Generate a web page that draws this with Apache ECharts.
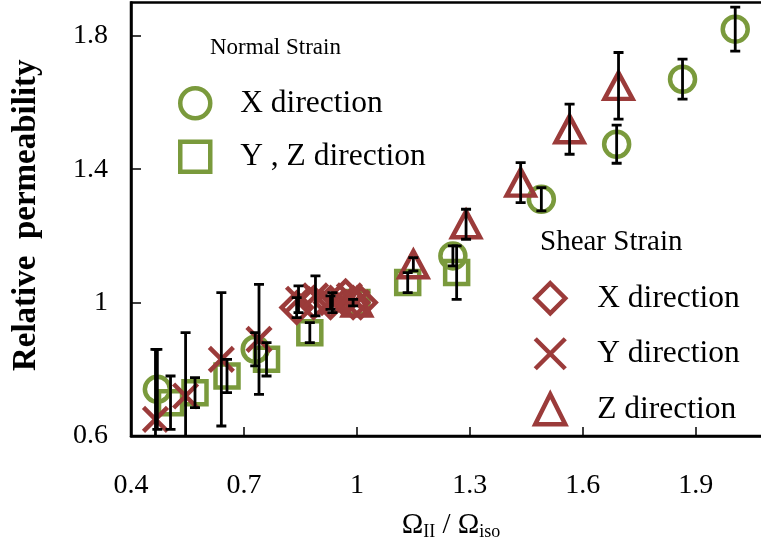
<!DOCTYPE html>
<html>
<head>
<meta charset="utf-8">
<script src="https://cdn.jsdelivr.net/npm/echarts@6/dist/echarts.min.js"></script>
<style>
  html, body { margin: 0; padding: 0; background: #fff; }
  #main { width: 761px; height: 550px; }
</style>
</head>
<body>
<div id="main"></div>
<script>
// values: [x, y, error]
const normalX = [
  [0.47, 0.74, 0.12], [0.73, 0.86, 0.05], [1.255, 1.14, 0.03], [1.49, 1.31, 0.035],
  [1.69, 1.475, 0.057], [1.865, 1.67, 0.06], [2.005, 1.82, 0.066]
];
const normalYZ = [
  [0.505, 0.70, 0.08], [0.57, 0.73, 0.045], [0.655, 0.78, 0.05], [0.76, 0.83, 0.05],
  [0.875, 0.91, 0.03], [1.0, 1.0, 0], [1.135, 1.06, 0.03], [1.265, 1.09, 0.08]
];
const shearX = [
  [0.84, 0.985, 0.03], [0.885, 1.0, 0.0], [0.93, 1.0, 0.02], [0.97, 1.02, 0.0],
  [0.99, 1.0, 0.01], [1.01, 1.0, 0]
];
const shearY = [
  [0.465, 0.65, 0.21], [0.545, 0.72, 0.19], [0.64, 0.83, 0.2], [0.74, 0.89, 0.165],
  [0.845, 1.01, 0.04], [0.89, 1.02, 0.06], [0.935, 1.0, 0.03], [0.98, 1.02, 0.0], [1.0, 1.0, 0]
];
const shearZ = [
  [1.0, 1.0, 0], [1.15, 1.115, 0.02], [1.29, 1.235, 0.045], [1.435, 1.36, 0.06],
  [1.565, 1.52, 0.075], [1.695, 1.65, 0.1]
];
const xTicks = [0.4, 0.7, 1, 1.3, 1.6, 1.9];
const yTicks = [0.6, 1, 1.4, 1.8];

const green = '#7a9a3c';
const red = '#9b3b3a';
const serif = 'Liberation Serif';
const clear = 'rgba(255,255,255,0)';

let chart = echarts.init(document.getElementById('main'));

function errBars(params, api) {
  let x = api.value(0), y = api.value(1), e = api.value(2);
  if (!e) return null;
  let top = api.coord([x, y + e]);
  let bot = api.coord([x, y - e]);
  let c = 5;
  let st = { stroke: '#000', lineWidth: 2.8 };
  return {
    type: 'group',
    children: [
      { type: 'line', shape: { x1: top[0], y1: top[1], x2: bot[0], y2: bot[1] }, style: st },
      { type: 'line', shape: { x1: top[0] - c, y1: top[1], x2: top[0] + c, y2: top[1] }, style: st },
      { type: 'line', shape: { x1: bot[0] - c, y1: bot[1], x2: bot[0] + c, y2: bot[1] }, style: st }
    ]
  };
}

function marks(name, data, symbol, size, color) {
  return {
    name: name,
    type: 'scatter',
    data: data.map(d => [d[0], d[1]]),
    symbol: symbol,
    symbolSize: size,
    itemStyle: { color: clear, borderColor: color, borderWidth: 4.5, opacity: 1 },
    emphasis: { disabled: true },
    z: 3
  };
}

const crossPath = 'path://M0,0L10,10M10,0L0,10';

let option = {
  animation: false,
  backgroundColor: '#fff',
  title: [
    { text: 'Normal Strain', left: 205, top: 31, textStyle: { fontFamily: serif, fontSize: 23, fontWeight: 'normal', color: '#000' } },
    { text: 'Shear Strain', left: 535, top: 223, textStyle: { fontFamily: serif, fontSize: 29, fontWeight: 'normal', color: '#000' } }
  ],
  legend: [
    {
      orient: 'vertical', left: 178, top: 86, padding: 0, itemWidth: 30, itemHeight: 30, itemGap: 19,
      data: ['nX', 'nYZ'],
      formatter: n => ({ nX: 'X direction', nYZ: 'Y , Z direction' })[n],
      itemStyle: { borderWidth: 4.5 },
      textStyle: { fontFamily: serif, fontSize: 31.5, color: '#000', padding: [0, 0, 0, 25] }
    },
    {
      orient: 'vertical', left: 533, top: 281, padding: 0, itemWidth: 30, itemHeight: 30, itemGap: 21,
      data: ['sX', 'sY', 'sZ'],
      formatter: n => ({ sX: 'X direction', sY: 'Y direction', sZ: 'Z direction' })[n],
      itemStyle: { borderWidth: 4.5 },
      textStyle: { fontFamily: serif, fontSize: 31.5, color: '#000', padding: [0, 0, 0, 27] }
    }
  ],
  grid: {
    left: 131, top: 2.5, bottom: 114, right: -10,
    show: true, borderColor: '#000', borderWidth: 2.5,
    outerBoundsMode: 'none'
  },
  xAxis: {
    type: 'value', min: 0.4, max: 2.1,
    name: 'Ω{sub|II} / Ω{sub|iso}',
    nameLocation: 'middle', nameGap: 73,
    nameTextStyle: {
      fontFamily: serif, fontSize: 29, color: '#000',
      rich: { sub: { fontFamily: serif, fontSize: 18, color: '#000', padding: [14, 0, 0, 0] } }
    },
    splitLine: { show: false },
    axisLine: { lineStyle: { color: '#000', width: 2.5 } },
    axisTick: { inside: true, length: 9, lineStyle: { color: '#000', width: 1.5 }, customValues: xTicks },
    axisLabel: { customValues: xTicks, margin: 36, fontFamily: serif, fontSize: 28, color: '#000' }
  },
  yAxis: {
    type: 'value', min: 0.6, max: 1.9,
    name: 'Relative  permeability',
    nameLocation: 'middle', nameGap: 88,
    nameTextStyle: { fontFamily: serif, fontSize: 33, fontWeight: 'bold', color: '#000', padding: [0, 0, 0, 8] },
    splitLine: { show: false },
    axisLine: { lineStyle: { color: '#000', width: 2.5 } },
    axisTick: { inside: true, length: 10, lineStyle: { color: '#000', width: 1.5 }, customValues: yTicks },
    axisLabel: { customValues: yTicks, margin: 23, fontFamily: serif, fontSize: 28, color: '#000' }
  },
  series: [
    marks('nYZ', normalYZ, 'rect', 23, green),
    marks('nX', normalX, 'circle', 25, green),
    marks('sX', shearX, 'diamond', 30, red),
    marks('sY', shearY, crossPath, 24, red),
    marks('sZ', shearZ, 'triangle', [28, 26], red),
    {
      type: 'custom',
      renderItem: errBars,
      data: [].concat(normalX, normalYZ, shearX, shearY, shearZ),
      clip: true,
      silent: true,
      z: 4
    }
  ]
};

chart.setOption(option);
</script>
</body>
</html>
